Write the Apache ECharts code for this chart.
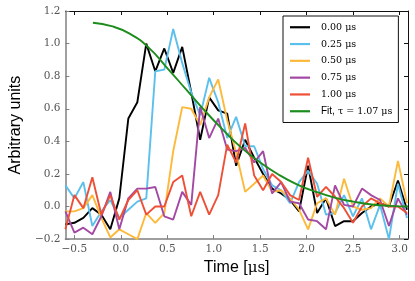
<!DOCTYPE html>
<html><head><meta charset="utf-8">
<script src="https://cdn.jsdelivr.net/npm/echarts@6/dist/echarts.min.js"></script>
<style>html,body{margin:0;padding:0;background:#fff}#c{width:415px;height:281px}</style>
</head><body><div id="c"></div>
<script>
// sample times (µs)
const times = [-0.596,-0.499,-0.403,-0.306,-0.209,-0.113,-0.016,0.081,0.178,0.274,0.371,0.468,0.564,0.661,0.758,0.854,0.951,1.048,1.145,1.241,1.338,1.435,1.531,1.628,1.725,1.821,1.918,2.015,2.112,2.208,2.305,2.402,2.498,2.595,2.692,2.789,2.885,2.982,3.079];
const seriesNames = ['0.00 μs','0.25 μs','0.50 μs','0.75 μs','1.00 μs'];
const d000 = [-0.11,-0.10,-0.07,-0.01,-0.05,-0.14,0.05,0.54,0.64,1.00,0.83,0.97,0.82,0.98,0.70,0.41,0.67,0.59,0.57,0.25,0.41,0.30,0.20,0.11,0.08,0.04,-0.03,0.25,-0.04,0.05,-0.12,-0.09,-0.09,-0.04,0.00,0.02,0.00,0.16,-0.02];
const d025 = [0.13,0.05,0.15,-0.12,-0.03,0.04,-0.07,-0.02,0.03,0.05,0.83,0.84,1.09,0.88,0.70,0.56,0.79,0.64,0.42,0.55,0.37,0.37,0.23,0.13,0.10,0.02,0.15,0.22,0.14,-0.05,-0.04,0.07,-0.06,0.05,-0.14,0.01,-0.20,0.14,-0.07];
const d050 = [-0.03,-0.03,-0.01,0.07,-0.07,-0.19,-0.14,-0.17,-0.20,-0.04,-0.10,-0.04,0.34,0.61,0.60,0.50,0.67,0.78,0.53,0.33,0.09,0.14,0.19,0.09,0.10,0.05,-0.02,-0.14,0.02,0.05,-0.05,0.17,0.00,-0.02,-0.01,0.05,0.00,0.28,0.02];
const d075 = [-0.03,-0.16,-0.13,-0.17,-0.06,0.09,-0.14,0.05,0.11,0.11,0.12,-0.06,-0.08,0.09,0.01,0.61,0.42,0.54,0.35,0.34,0.36,0.27,0.34,0.08,0.15,0.03,0.02,-0.08,-0.09,-0.14,0.13,0.01,0.00,0.11,0.07,0.04,-0.12,0.05,-0.05];
const d100 = [-0.14,0.07,-0.01,0.18,-0.05,0.07,-0.08,0.04,0.10,-0.05,0.00,0.00,0.15,0.19,-0.06,0.09,-0.05,0.07,0.38,0.27,0.51,0.19,0.10,0.20,0.15,0.07,0.04,0.30,0.06,0.12,0.06,-0.01,-0.10,0.00,0.05,0.02,0.00,0.00,-0.04];
const fitName = 'Fit, τ = 1.07 μs';
const fitTimes = [-0.3,-0.1,0.1,0.3,0.5,0.7,0.9,1.1,1.3,1.5,1.7,1.9,2.1,2.3,2.5,2.7,2.9,3.09];
const fitValues = [1.128,1.107,1.06,0.975,0.85,0.72,0.59,0.47,0.36,0.27,0.195,0.135,0.09,0.055,0.03,0.012,0.004,0.0];
const xTickValues = [-0.5,0,0.5,1,1.5,2,2.5,3];
const colors = ['#000000','#5bc0eb','#fdb93a','#a349a4','#ee5037','#1c8c1c'];

const dataSets = [d000,d025,d050,d075,d100];
const fmt = (v,dec) => { if (Math.abs(v) < 1e-9) v = 0; const s = v.toFixed(dec); return s.replace('-', '\u2212'); };

const series = dataSets.map((arr,i) => ({
  name: seriesNames[i], type: 'line', symbol: 'none', showSymbol: false, animation: false,
  data: arr.map((v,k) => [times[k], v]),
  lineStyle: {width: 1.9, color: colors[i]}, itemStyle: {color: colors[i]}
}));
series.push({
  name: fitName, type: 'line', symbol: 'none', showSymbol: false, smooth: true, animation: false,
  data: fitValues.map((v,k) => [fitTimes[k], v]),
  lineStyle: {width: 1.9, color: colors[5]}, itemStyle: {color: colors[5]}
});

const tickFont = {fontFamily: 'DejaVu Serif', fontSize: 10.5, color: '#555'};
const chart = echarts.init(document.getElementById('c'), null, {renderer: 'canvas'});
chart.setOption({
  animation: false,
  backgroundColor: '#fff',
  grid: {left: 52, right: 7, top: 11, bottom: 40, containLabel: false},
  xAxis: [{
    type: 'value', min: -0.596, max: 3.09, position: 'bottom',
    name: '{a|Time [}{b|μs}{a|]}', nameLocation: 'middle', nameGap: 18,
    nameTextStyle: {rich: {a: {fontFamily: 'Liberation Sans', fontSize: 16, color: '#000'}, b: {fontFamily: 'DejaVu Serif', fontSize: 15, color: '#000'}}},
    axisLine: {show: true, onZero: false, lineStyle: {color: '#808080', width: 1.5}},
    axisTick: {show: true, inside: true, length: 4, customValues: xTickValues, lineStyle: {color: '#808080'}},
    axisLabel: Object.assign({customValues: xTickValues, margin: 5, formatter: v => fmt(v,1)}, tickFont),
    splitLine: {show: false}
  },{
    type: 'value', min: -0.596, max: 3.09, position: 'top',
    axisLine: {show: true, onZero: false, lineStyle: {color: '#111', width: 1}},
    axisTick: {show: true, inside: true, length: 4, customValues: xTickValues, lineStyle: {color: '#111'}},
    axisLabel: {show: false}, splitLine: {show: false}
  }],
  yAxis: [{
    type: 'value', min: -0.2, max: 1.2, interval: 0.2, position: 'left',
    name: 'Arbitrary units', nameLocation: 'middle', nameGap: 33,
    nameTextStyle: {fontFamily: 'Liberation Sans', fontSize: 16, color: '#000'},
    axisLine: {show: true, onZero: false, lineStyle: {color: '#808080', width: 1.5}},
    axisTick: {show: true, inside: true, length: 4, lineStyle: {color: '#808080'}},
    axisLabel: Object.assign({margin: 5, formatter: v => fmt(v,1)}, tickFont),
    splitLine: {show: false}
  },{
    type: 'value', min: -0.2, max: 1.2, interval: 0.2, position: 'right',
    axisLine: {show: true, onZero: false, lineStyle: {color: '#111', width: 1}},
    axisTick: {show: true, inside: true, length: 4, lineStyle: {color: '#111'}},
    axisLabel: {show: false}, splitLine: {show: false}
  }],
  legend: {
    orient: 'vertical', left: 283, top: 16,
    padding: [5, 6, 5, 7], itemGap: 4.3, itemWidth: 20, itemHeight: 2.2, icon: 'rect',
    backgroundColor: '#fff', borderColor: '#111', borderWidth: 1, borderRadius: 0,
    data: seriesNames.concat([fitName]),
    formatter: n => n === fitName ? '{s|Fit,} τ = 1.07 μs' : n,
    textStyle: {fontFamily: 'DejaVu Serif', fontSize: 9.5, color: '#000', lineHeight: 12.5, padding: [0,0,0,6],
      rich: {s: {fontFamily: 'Liberation Sans', fontSize: 10, color: '#000'}}}
  },
  series: series
});
</script></body></html>
